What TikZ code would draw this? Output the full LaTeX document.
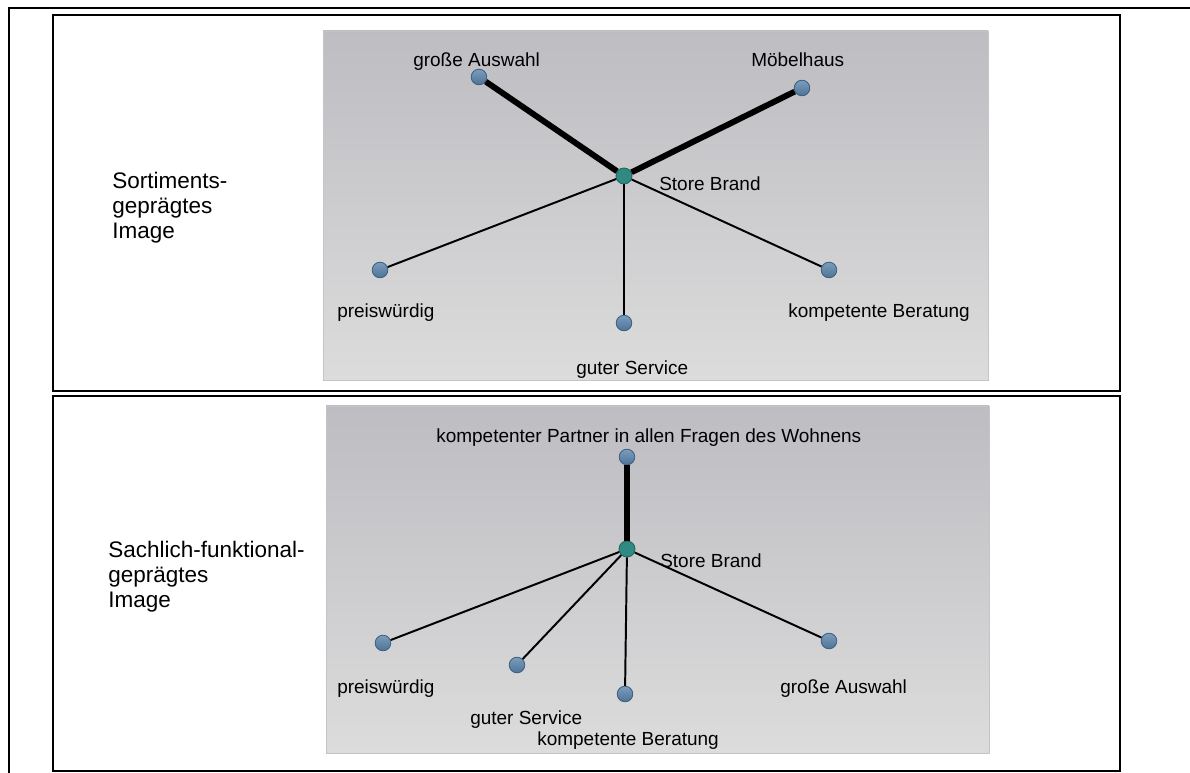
\documentclass[tikz,border=0pt]{standalone}
\usepackage{fontspec}
\setmainfont{Liberation Sans}
\usetikzlibrary{positioning}

\definecolor{paneltop}{HTML}{BDBDC2}
\definecolor{panelbot}{HTML}{DCDCDC}
\definecolor{panelrim}{HTML}{C4C4C8}
\definecolor{dottop}{HTML}{7B9DBD}
\definecolor{dotbot}{HTML}{4E7396}
\definecolor{dotrim}{HTML}{3C5D7D}
\definecolor{hubfill}{HTML}{2E8A83}
\definecolor{hubrim}{HTML}{1E625C}

\begin{document}
\begin{tikzpicture}[x=0.025cm,y=-0.025cm,
    dot/.style={circle, inner sep=0pt, minimum size=0.39cm, line width=0.6pt,
      draw=dotrim, top color=dottop, bottom color=dotbot},
    hub/.style={circle, inner sep=0pt, minimum size=0.4cm, line width=0.6pt,
      draw=hubrim, fill=hubfill},
    lbl/.style={anchor=base west, inner sep=0pt, font=\fontsize{13.5}{16}\selectfont},
    side/.style={anchor=north west, inner sep=0pt, align=left,
      font=\fontsize{16}{17.8}\selectfont},
    tie/.style={line width=1.4pt},
    strong/.style={line width=4.2pt},
    frame/.style={line width=2pt}]
        \useasboundingbox (0,0) rectangle (1190,773);
        % outer frame and the two boxes
        \draw[frame] (1190,8) -- (9,8) -- (9,773);
        \draw[frame] (53,15) rectangle (1120,391);
        \draw[frame] (53,396) rectangle (1120,771);
        \shade[top color=paneltop, bottom color=panelbot, draw=panelrim] (323,31) rectangle (988,380);
        \shade[top color=paneltop, bottom color=panelbot, draw=panelrim] (326,406) rectangle (989,753);

        % upper network
        \node[side] (imgA) at (112,172) {Sortiments-\\geprägtes\\Image};
        \node[hub] (hubA) at (624,176) {};
        \node[dot] (auswahlA) at (479,77) {};
        \node[dot] (moebel) at (802,88) {};
        \node[dot] (preisA) at (380,270) {};
        \node[dot] (serviceA) at (624,323) {};
        \node[dot] (beratA) at (829,270) {};
        \draw[strong] (hubA) -- (auswahlA);
        \draw[strong] (hubA) -- (moebel);
        \draw[tie] (hubA) -- (preisA);
        \draw[tie] (hubA) -- (serviceA);
        \draw[tie] (hubA) -- (beratA);
        \node[lbl] (hubAtxt) at (659,191) {Store Brand};
        \node[lbl] (auswahlAtxt) at (413,67) {große Auswahl};
        \node[lbl] (moebeltxt) at (751,67) {Möbelhaus};
        \node[lbl] (preisAtxt) at (337,318) {preiswürdig};
        \node[lbl] (serviceAtxt) at (576,375) {guter Service};
        \node[lbl] (beratAtxt) at (788,318) {kompetente Beratung};

        % lower network
        \node[side] (imgB) at (108,541) {Sachlich-funktional-\\geprägtes\\Image};
        \node[hub] (hubB) at (627,549) {};
        \node[dot] (partner) at (627,457) {};
        \node[dot] (preisB) at (383,643) {};
        \node[dot] (serviceB) at (517,665) {};
        \node[dot] (beratB) at (625,694) {};
        \node[dot] (auswahlB) at (829,641) {};
        \draw[strong] (hubB) -- (partner);
        \draw[tie] (hubB) -- (preisB);
        \draw[tie] (hubB) -- (serviceB);
        \draw[tie] (hubB) -- (beratB);
        \draw[tie] (hubB) -- (auswahlB);
        \node[lbl] (hubBtxt) at (660,567) {Store Brand};
        \node[lbl] (partnertxt) at (436,443) {kompetenter Partner in allen Fragen des Wohnens};
        \node[lbl] (preisBtxt) at (337,693) {preiswürdig};
        \node[lbl] (serviceBtxt) at (470,724) {guter Service};
        \node[lbl] (beratBtxt) at (537,745) {kompetente Beratung};
        \node[lbl] (auswahlBtxt) at (780,693) {große Auswahl};
\end{tikzpicture}
\end{document}
